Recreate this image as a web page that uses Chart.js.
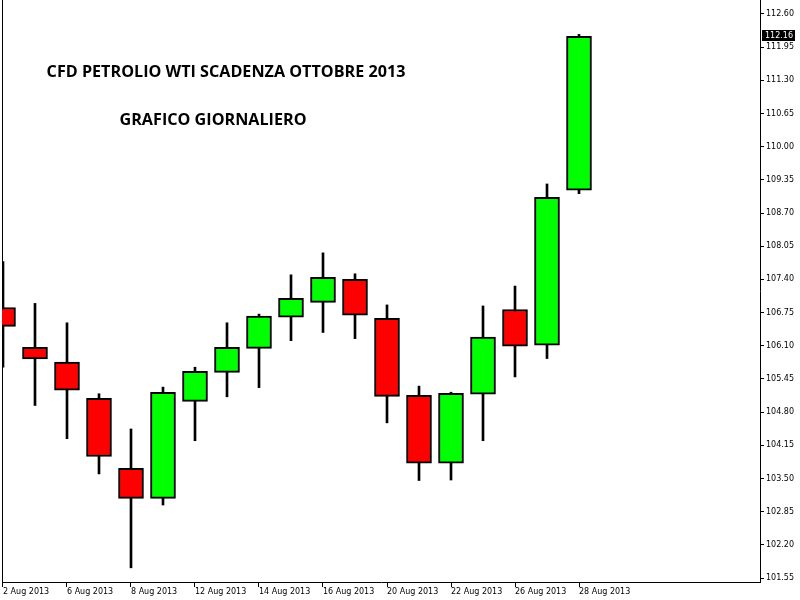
<!DOCTYPE html>
<html>
<head>
<meta charset="utf-8">
<script src="https://cdn.jsdelivr.net/npm/chart.js@4"></script>
<style>
  html, body { margin: 0; padding: 0; background: #ffffff; }
  #wrap { width: 800px; height: 600px; }
</style>
</head>
<body>
<div id="wrap"><canvas id="c" width="800" height="600"></canvas></div>
<script>
const dates = ['2 Aug 2013','5 Aug 2013','6 Aug 2013','7 Aug 2013','8 Aug 2013','9 Aug 2013',
  '12 Aug 2013','13 Aug 2013','14 Aug 2013','15 Aug 2013','16 Aug 2013','19 Aug 2013',
  '20 Aug 2013','21 Aug 2013','22 Aug 2013','23 Aug 2013','26 Aug 2013','27 Aug 2013','28 Aug 2013'];
const opens  = [106.85,106.07,105.78,105.07,103.70,103.11,105.01,105.58,106.05,106.66,106.95,107.40,106.64,105.13,103.80,105.15,106.81,106.11,109.15];
const highs  = [107.75,106.93,106.55,105.16,104.47,105.29,105.68,106.55,106.72,107.49,107.92,107.51,106.90,105.31,105.19,106.88,107.27,109.27,112.20];
const lows   = [105.68,104.93,104.28,103.59,101.75,102.98,104.24,105.10,105.28,106.20,106.36,106.24,104.59,103.46,103.47,104.24,105.49,105.85,109.08];
const closes = [106.48,105.84,105.23,103.93,103.11,105.19,105.60,106.07,106.68,107.03,107.44,106.70,105.11,103.80,105.17,106.27,106.09,109.01,112.16];
const xTickIndices = [0,2,4,6,8,10,12,14,16,18];
const yTickValues = [101.55,102.20,102.85,103.50,104.15,104.80,105.45,106.10,106.75,107.40,108.05,108.70,109.35,110.00,110.65,111.30,111.95,112.60];
const titleLines = ['CFD PETROLIO WTI SCADENZA OTTOBRE 2013', 'GRAFICO GIORNALIERO'];

const UP = '#00ff00', DOWN = '#ff0000';
const bodyData = dates.map((d, i) => ({ x: i, y: [opens[i], closes[i]] }));
const wickData = dates.map((d, i) => ({ x: i, y: [lows[i], highs[i]] }));
const bodyColors = dates.map((d, i) => closes[i] >= opens[i] ? UP : DOWN);

const axisFont = { family: 'DejaVu Sans', size: 8 };

const overlay = {
  id: 'overlay',
  afterDraw(chart) {
    const ctx = chart.ctx;
    const ys = chart.scales.y;
    ctx.save();
    // titles
    ctx.fillStyle = '#000';
    ctx.textBaseline = 'middle';
    ctx.textAlign = 'center';
    ctx.font = 'bold 100px "Open Sans"';
    const w = ctx.measureText(titleLines[0]).width;
    const fs = 100 * 359 / w;
    ctx.font = 'bold ' + fs.toFixed(2) + 'px "Open Sans"';
    ctx.fillText(titleLines[0], 226, 72);
    ctx.fillText(titleLines[1], 213, 120);
    // current price label
    const last = closes[closes.length - 1];
    const py = ys.getPixelForValue(last);
    ctx.fillStyle = '#000';
    ctx.fillRect(chart.chartArea.right + 2, Math.round(py) - 6, 33, 11);
    ctx.fillStyle = '#fff';
    ctx.font = '8px "DejaVu Sans"';
    ctx.textAlign = 'left';
    ctx.fillText(last.toFixed(2), chart.chartArea.right + 5, Math.round(py) - 0.5);
    ctx.restore();
  }
};

new Chart(document.getElementById('c'), {
  type: 'bar',
  data: {
    datasets: [
      {
        label: 'wick',
        data: wickData,
        backgroundColor: '#000',
        borderWidth: 0,
        barThickness: 2,
        grouped: false,
        order: 2
      },
      {
        label: 'body',
        data: bodyData,
        backgroundColor: bodyColors,
        borderColor: '#000',
        borderWidth: 2,
        borderSkipped: false,
        barThickness: 25,
        grouped: false,
        order: 1
      }
    ]
  },
  options: {
    responsive: false,
    animation: false,
    layout: { padding: { left: 0, right: 0, top: 0, bottom: 0 } },
    plugins: { legend: { display: false }, tooltip: { enabled: false }, title: { display: false } },
    scales: {
      x: {
        type: 'linear',
        offset: false,
        min: -0.031,
        max: 23.656,
        afterBuildTicks(s) { s.ticks = xTickIndices.map(v => ({ value: v })); },
        afterFit(s) { s.height = 18; s.paddingLeft = 0; s.paddingRight = 0; },
        grid: { drawOnChartArea: false, drawTicks: true, tickLength: 5, tickColor: '#000', offset: false },
        border: { display: true, color: '#000', width: 1 },
        ticks: {
          autoSkip: false, maxRotation: 0, minRotation: 0, align: 'start', padding: 0,
          color: '#000', font: axisFont,
          callback: (v) => dates[v] || ''
        }
      },
      y: {
        position: 'right',
        min: 101.472,
        max: 112.874,
        afterBuildTicks(s) { s.ticks = yTickValues.map(v => ({ value: v })); },
        afterFit(s) { s.width = 40; s.paddingTop = 0; s.paddingBottom = 0; },
        grid: { drawOnChartArea: false, drawTicks: true, tickLength: 4, tickColor: '#000' },
        border: { display: true, color: '#000', width: 1 },
        ticks: {
          color: '#000', font: axisFont, padding: 2,
          callback: (v) => Number(v).toFixed(2)
        }
      },
      yl: {
        position: 'left',
        display: true,
        afterFit(s) { s.width = 2; s.paddingTop = 0; s.paddingBottom = 0; },
        grid: { drawOnChartArea: false, drawTicks: false },
        border: { display: true, color: '#000', width: 1 },
        ticks: { display: false }
      }
    }
  },
  plugins: [overlay]
});
</script>
</body>
</html>
